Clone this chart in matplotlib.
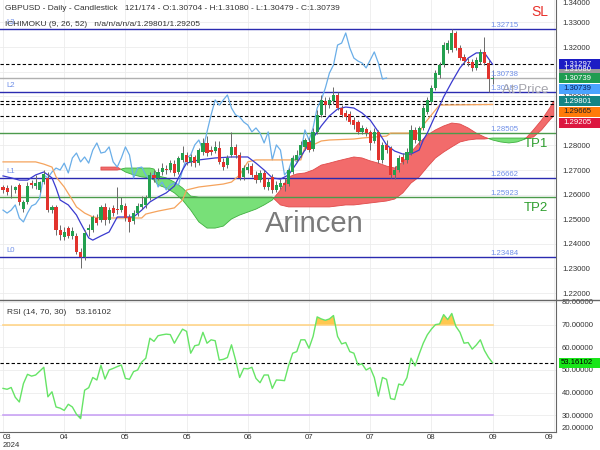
import numpy as np
import matplotlib.pyplot as plt
from matplotlib.lines import Line2D
from matplotlib.patches import Rectangle

plt.rcParams['font.family'] = ['Liberation Sans', 'DejaVu Sans']

# GBPUSD daily candles (bar 0 = mid March 2024)
opens = [1.2631, 1.2627, 1.2623, 1.2619, 1.2639, 1.2541, 1.2570, 1.2647, 1.2635, 1.2619,
         1.2651, 1.2668, 1.2537, 1.2550, 1.2456, 1.2428, 1.2464, 1.2432, 1.2432, 1.2367,
         1.2346, 1.2456, 1.2456, 1.2505, 1.2497, 1.2550, 1.2497, 1.2546, 1.2541, 1.2537,
         1.2554, 1.2509, 1.2493, 1.2525, 1.2550, 1.2558, 1.2586, 1.2680, 1.2668, 1.2692,
         1.2704, 1.2700, 1.2724, 1.2692, 1.2741, 1.2761, 1.2733, 1.2753, 1.2728, 1.2773,
         1.2810, 1.2781, 1.2777, 1.2790, 1.2733, 1.2720, 1.2761, 1.2794, 1.2761, 1.2672,
         1.2700, 1.2716, 1.2680, 1.2659, 1.2688, 1.2631, 1.2672, 1.2619, 1.2631, 1.2647,
         1.2643, 1.2692, 1.2741, 1.2761, 1.2794, 1.2814, 1.2785, 1.2855, 1.2924, 1.2981,
         1.2968, 1.2981, 1.3005, 1.2952, 1.2932, 1.2928, 1.2903, 1.2895, 1.2855, 1.2867,
         1.2855, 1.2818, 1.2855, 1.2741, 1.2802, 1.2790, 1.2680, 1.2700, 1.2753, 1.2741,
         1.2769, 1.2863, 1.2818, 1.2871, 1.2936, 1.2977, 1.3033, 1.3086, 1.3127, 1.3188,
         1.3188, 1.3257, 1.3196, 1.3159, 1.3139, 1.3139, 1.3115, 1.3139, 1.3180, 1.3135,
         1.30704]
highs = [1.2639, 1.2639, 1.2639, 1.2635, 1.2647, 1.2578, 1.2651, 1.2659, 1.2680, 1.2655,
         1.2700, 1.2692, 1.2558, 1.2558, 1.2476, 1.2468, 1.2472, 1.2468, 1.2444, 1.2383,
         1.2456, 1.2481, 1.2517, 1.2521, 1.2558, 1.2566, 1.2550, 1.2558, 1.2631, 1.2590,
         1.2566, 1.2521, 1.2537, 1.2566, 1.2594, 1.2598, 1.2692, 1.2700, 1.2708, 1.2728,
         1.2720, 1.2741, 1.2741, 1.2757, 1.2798, 1.2773, 1.2765, 1.2761, 1.2789, 1.2830,
         1.2838, 1.2798, 1.2818, 1.2818, 1.2749, 1.2761, 1.2855, 1.2806, 1.2773, 1.2720,
         1.2728, 1.2728, 1.2696, 1.2700, 1.2700, 1.2668, 1.2684, 1.2655, 1.2663, 1.2668,
         1.2708, 1.2761, 1.2781, 1.2818, 1.2830, 1.2830, 1.2871, 1.2944, 1.3005, 1.2997,
         1.2997, 1.3037, 1.3017, 1.2964, 1.2944, 1.2940, 1.2916, 1.2903, 1.2883, 1.2875,
         1.2863, 1.2871, 1.2863, 1.2814, 1.2822, 1.2798, 1.2716, 1.2761, 1.2769, 1.2790,
         1.2883, 1.2875, 1.2879, 1.2964, 1.2997, 1.3046, 1.3107, 1.3139, 1.3220, 1.3228,
         1.32715, 1.3265, 1.3208, 1.3172, 1.3155, 1.3151, 1.3159, 1.3192, 1.3241, 1.3147,
         1.31080]
lows = [1.2607, 1.2598, 1.2586, 1.2607, 1.2558, 1.2529, 1.2562, 1.2627, 1.2623, 1.2611,
        1.2643, 1.2529, 1.2525, 1.2436, 1.2415, 1.2415, 1.2424, 1.2420, 1.2359, 1.2302,
        1.2334, 1.2432, 1.2448, 1.2476, 1.2489, 1.2476, 1.2485, 1.2513, 1.2521, 1.2529,
        1.2493, 1.2448, 1.2481, 1.2513, 1.2541, 1.2546, 1.2578, 1.2651, 1.2659, 1.2680,
        1.2684, 1.2692, 1.2676, 1.2684, 1.2733, 1.2720, 1.2716, 1.2712, 1.2720, 1.2761,
        1.2757, 1.2761, 1.2769, 1.2724, 1.2700, 1.2708, 1.2753, 1.2749, 1.2659, 1.2659,
        1.2688, 1.2672, 1.2647, 1.2651, 1.2623, 1.2619, 1.2607, 1.2611, 1.2623, 1.2615,
        1.2635, 1.2684, 1.2733, 1.2753, 1.2781, 1.2773, 1.2777, 1.2846, 1.2916, 1.2924,
        1.2952, 1.2968, 1.2944, 1.2916, 1.2903, 1.2887, 1.2867, 1.2846, 1.2846, 1.2838,
        1.2781, 1.2810, 1.2728, 1.2728, 1.2769, 1.2668, 1.2663, 1.2692, 1.2724, 1.2728,
        1.2761, 1.2810, 1.2802, 1.2863, 1.2928, 1.2968, 1.3025, 1.3074, 1.3119, 1.3176,
        1.3180, 1.3188, 1.3147, 1.3131, 1.3123, 1.3103, 1.3107, 1.3131, 1.3127, 1.30189,
        1.30479]
closes = [1.2619, 1.2611, 1.2624, 1.2631, 1.2570, 1.2570, 1.2635, 1.2639, 1.2647, 1.2651,
          1.2684, 1.2537, 1.2550, 1.2456, 1.2436, 1.2448, 1.2432, 1.2452, 1.2367, 1.2346,
          1.2444, 1.2464, 1.2509, 1.2485, 1.2550, 1.2497, 1.2537, 1.2525, 1.2537, 1.2558,
          1.2505, 1.2489, 1.2525, 1.2554, 1.2562, 1.2586, 1.2680, 1.2668, 1.2692, 1.2708,
          1.2700, 1.2728, 1.2688, 1.2749, 1.2769, 1.2733, 1.2753, 1.2728, 1.2781, 1.2810,
          1.2769, 1.2773, 1.2794, 1.2733, 1.2712, 1.2749, 1.2794, 1.2761, 1.2668, 1.2708,
          1.2712, 1.2680, 1.2659, 1.2688, 1.2631, 1.2651, 1.2619, 1.2639, 1.2647, 1.2639,
          1.2700, 1.2749, 1.2761, 1.2802, 1.2822, 1.2781, 1.2855, 1.2924, 1.2985, 1.2964,
          1.2985, 1.3005, 1.2952, 1.2924, 1.2916, 1.2895, 1.2883, 1.2855, 1.2871, 1.2850,
          1.2810, 1.2855, 1.2741, 1.2802, 1.2781, 1.2680, 1.2700, 1.2749, 1.2733, 1.2773,
          1.2863, 1.2822, 1.2871, 1.2952, 1.2985, 1.3033, 1.3094, 1.3127, 1.3208, 1.3216,
          1.3257, 1.3196, 1.3155, 1.3143, 1.3135, 1.3115, 1.3147, 1.3180, 1.3135, 1.3070,
          1.30739]

# Ichimoku lines, read at selected bars
tenkan_bar = [0, 2, 4, 6, 8, 10, 12, 13, 14, 16, 18, 19, 21, 22, 24, 26, 28, 30, 32, 34,
              36, 38, 40, 42, 44, 45, 48, 52, 56, 60, 62, 64, 66, 68, 70, 72, 74, 76, 78, 80,
              82, 84, 86, 88, 90, 92, 94, 96, 98, 100, 102, 103, 104, 106, 108, 110, 112, 114,
              116, 118, 120]
tenkan_val = [1.2676, 1.2668, 1.2659, 1.2659, 1.2680, 1.2692, 1.2668, 1.2627, 1.2578, 1.2558,
              1.2517, 1.2485, 1.2424, 1.2415, 1.2432, 1.2448, 1.2509, 1.2509, 1.2509, 1.2537,
              1.2570, 1.2590, 1.2607, 1.2635, 1.2700, 1.2728, 1.2741, 1.2749, 1.2753, 1.2753,
              1.2728, 1.2700, 1.2668, 1.2663, 1.2680, 1.2728, 1.2781, 1.2830, 1.2879, 1.2920,
              1.2948, 1.2956, 1.2952, 1.2932, 1.2903, 1.2855, 1.2802, 1.2777, 1.2765, 1.2765,
              1.2781, 1.2822, 1.2850, 1.2924, 1.2997, 1.3058, 1.3115, 1.3155, 1.3176, 1.3176,
              1.31297]
kijun_bar = [0, 8, 10, 12, 13, 15, 17, 18, 20, 22, 24, 34, 35, 38, 42, 44, 45, 48, 54, 56,
             58, 60, 62, 73, 74, 76, 78, 80, 86, 88, 94, 95, 102, 103, 104, 106, 107, 120]
kijun_val = [1.2733, 1.2733, 1.2724, 1.2712, 1.2672, 1.2631, 1.2578, 1.2550, 1.2525, 1.2509,
             1.2505, 1.2505, 1.2521, 1.2533, 1.2546, 1.2578, 1.2619, 1.2631, 1.2643, 1.2651,
             1.2680, 1.2733, 1.2741, 1.2741, 1.2794, 1.2802, 1.2818, 1.2822, 1.2826, 1.2830,
             1.2838, 1.2850, 1.2850, 1.2883, 1.2903, 1.2944, 1.2964, 1.29665]
cloud_bar = [24, 28, 30, 32, 34, 36, 37, 38, 40, 42, 44, 46, 48, 50, 52, 54, 56, 58, 60, 62,
             64, 66, 68, 70, 72, 74, 76, 78, 80, 82, 84, 86, 88, 90, 92, 94, 96, 98, 100, 102,
             104, 106, 108, 110, 112, 114, 116, 118, 120, 122, 124, 126, 128, 130, 132, 134, 135]
span_a = [1.2712, 1.2712, 1.2692, 1.2680, 1.2672, 1.2668, 1.2659, 1.2639, 1.2627, 1.2607,
          1.2578, 1.2537, 1.2489, 1.2464, 1.2464, 1.2472, 1.2501, 1.2517, 1.2529, 1.2541,
          1.2558, 1.2578, 1.2619, 1.2672, 1.2684, 1.2688, 1.2700, 1.2720, 1.2728, 1.2737,
          1.2745, 1.2753, 1.2749, 1.2737, 1.2728, 1.2716, 1.2708, 1.2733, 1.2773, 1.2810,
          1.2842, 1.2863, 1.2879, 1.2891, 1.2887, 1.2871, 1.2850, 1.2834, 1.2822, 1.2814,
          1.2810, 1.2814, 1.2826, 1.2863, 1.2903, 1.2952, 1.29801]
span_b = [1.2700, 1.2700, 1.2708, 1.2708, 1.2708, 1.2708, 1.2704, 1.2676, 1.2668, 1.2651,
          1.2627, 1.2594, 1.2590, 1.2590, 1.2590, 1.2590, 1.2590, 1.2590, 1.2590, 1.2590,
          1.2590, 1.2590, 1.2558, 1.2550, 1.2550, 1.2550, 1.2550, 1.2550, 1.2550, 1.2554,
          1.2558, 1.2558, 1.2562, 1.2566, 1.2570, 1.2574, 1.2582, 1.2607, 1.2647, 1.2672,
          1.2712, 1.2749, 1.2773, 1.2794, 1.2814, 1.2822, 1.2826, 1.2826, 1.2830, 1.2830,
          1.2830, 1.2830, 1.2830, 1.2834, 1.2863, 1.2903, 1.29205]
chikou_shift = 26

rsi = [41.9, 41.5, 42.3, 38.0, 35.9, 44.0, 48.1, 47.3, 47.8, 49.5,
       51.2, 38.2, 40.4, 33.7, 33.2, 32.2, 34.9, 33.7, 30.5, 28.6,
       41.1, 42.2, 46.7, 45.6, 52.1, 46.0, 50.0, 50.7, 51.5, 52.2,
       46.3, 45.9, 49.3, 50.0, 53.5, 55.2, 64.0, 62.6, 65.1, 65.5,
       65.8, 65.6, 61.8, 65.0, 68.0, 67.0, 57.4, 60.7, 61.1, 66.6,
       61.8, 63.3, 62.9, 54.4, 54.7, 55.5, 61.1, 54.4, 46.7, 50.7,
       50.5, 51.2, 46.3, 44.4, 47.8, 47.8, 41.9, 45.6, 45.5, 45.3,
       52.0, 57.4, 58.1, 63.3, 63.3, 59.6, 64.8, 73.4, 72.5, 71.9,
       72.5, 74.0, 64.8, 61.5, 62.1, 58.1, 57.4, 52.2, 52.7, 50.0,
       51.0, 46.7, 38.5, 46.7, 45.9, 37.4, 37.0, 43.8, 43.3, 46.6,
       55.2, 51.8, 57.0, 61.8, 65.5, 68.0, 70.0, 70.3, 74.4, 72.2,
       74.9, 69.2, 66.6, 61.8, 62.1, 59.2, 61.0, 63.3, 58.6, 55.5,
       53.16102]
rsi_upper, rsi_lower, rsi_last = 70, 30, 53.16102

# levels drawn on the chart
blue_levels = [1.32715, 1.30189, 1.26662, 1.23484]
blue_names = ['L3', 'L2', 'L1', 'L0']
green_levels = [1.28505, 1.25923]
green_names = ['TP1', 'TP2']
dashed_levels = [1.31297, 1.29801, 1.29665, 1.29205]
last_close = 1.30739
at_price = 1.30738
sl_level = 1.32715

tag_values = [1.31297, 1.30739, 1.30739, 1.29801, 1.29665, 1.29205]
tag_colors = ['#1c1cc4', '#1e9c50', '#4ba3ff', '#138585', '#ff7b0a', '#dc1740']
tag_text = ['white', 'white', '#0a1f5c', 'white', '#222222', 'white']
high_tag = 1.31080

date_ticks = list(range(0, 136, 15))
date_labels = ['03\n2024', '04', '05', '05', '06', '07', '07', '08', '09', '09']
price_ticks = [1.22, 1.23, 1.24, 1.25, 1.26, 1.27, 1.28, 1.29, 1.30, 1.31, 1.32, 1.33]
rsi_ticks = [30, 40, 50, 60, 70, 80]

# ---- layout (pixels of a 600x450 image) ----
AXW, MH, RH = 556.0, 300.0, 132.0
fig = plt.figure(figsize=(6, 4.5), dpi=100)
ax = fig.add_axes([0, 150 / 450, AXW / 600, MH / 450])
ax2 = fig.add_axes([0, 18 / 450, AXW / 600, RH / 450])

GREEN, RED = '#23a04f', '#e2332d'
TXT = '#333333'
FS = 5.6

bars = np.arange(len(closes))
o, h, l, c = map(np.array, (opens, highs, lows, closes))
xlim = (-0.74, 135.54)
ylim = (1.21716, 1.33911)
ppx = (ylim[1] - ylim[0]) / MH  # price per pixel

for a_ in (ax, ax2):
    a_.set_xlim(*xlim)
    a_.set_xticks(date_ticks)
    a_.grid(True, color='#ececec', lw=0.6)
    a_.set_axisbelow(True)
    for s in ('top', 'left'):
        a_.spines[s].set_visible(False)
    a_.spines['right'].set_color('#666666')
    a_.yaxis.tick_right()
    a_.tick_params(length=0, labelsize=FS, labelcolor=TXT)
    a_.tick_params(axis='y', pad=4.3)

ax.spines['bottom'].set_visible(False)
ax.tick_params(axis='x', labelbottom=False)
ax.set_ylim(*ylim)
ax.set_yticks(price_ticks)
ax.set_yticklabels([f'{v:.5f}' for v in price_ticks])
ax.text(1 + 6 / AXW, 1.0, '1.34000', transform=ax.transAxes, ha='left', va='top',
        fontsize=FS, color=TXT, clip_on=False)

# cloud
cb, sa, sb = np.array(cloud_bar), np.array(span_a), np.array(span_b)
ax.fill_between(cb, sa, sb, where=sa >= sb, interpolate=True, fc='#f26b6b',
                ec='#e04a4a', lw=0.6, zorder=2)
ax.fill_between(cb, sa, sb, where=sa < sb, interpolate=True, fc='#78e078',
                ec='#3fb03f', lw=0.6, zorder=2)

# level lines
for v in blue_levels:
    ax.axhline(v, color='#2b2bb0', lw=1, zorder=3)
for v in green_levels:
    ax.axhline(v, color='#4c9a4c', lw=1, zorder=3)
for v in dashed_levels:
    ax.axhline(v, color='black', lw=0.8, ls=(0, (3, 2)), zorder=3)
ax.axhline(last_close, color='#b0b0b0', lw=1, zorder=3)

# ichimoku lines
ax.plot(bars[:-chikou_shift], c[chikou_shift:], color='#6aaee8', lw=0.9, zorder=3.5)
ax.plot(kijun_bar, kijun_val, color='#f5a35c', lw=0.9, zorder=3.5)
ax.plot(tenkan_bar, tenkan_val, color='#3a3acf', lw=0.9, zorder=3.6)

# candles
col = np.where(c >= o, GREEN, RED)
ax.vlines(bars, l, h, colors='#6a6a6a', lw=0.7, zorder=4)
ax.bar(bars, np.maximum(np.abs(c - o), 0.00012), bottom=np.minimum(o, c), width=0.78,
       color=col, lw=0, zorder=5)

# labels on levels
lvl_col = '#6f8fe8'
ylab = ax.get_yaxis_transform()
for v in blue_levels + green_levels:
    ax.text(490 / AXW, v, f'{v:.5f}', transform=ylab, ha='left', va='bottom',
            fontsize=FS, color=lvl_col, zorder=6)
ax.text(490 / AXW, at_price, f'{at_price:.5f}', transform=ylab, ha='left', va='bottom',
        fontsize=FS, color=lvl_col, zorder=6)
for v, nm in zip(blue_levels, blue_names):
    ax.text(6 / AXW, v + 3 * ppx, nm, transform=ylab, ha='left', va='bottom',
            fontsize=FS, color=lvl_col, zorder=6)

ax.text(540 / AXW, sl_level + 17 * ppx, 'SL', transform=ylab, ha='center', va='center',
        fontsize=10, color='#e8302a', zorder=6)
for v, nm in zip(green_levels, green_names):
    ax.text(536 / AXW, v - 11.5 * ppx, nm, transform=ylab, ha='center', va='center',
            fontsize=9.5, color='#2e9e2e', zorder=6)
ax.text(525 / AXW, 1 - 90 / MH, 'At Price', transform=ax.transAxes, ha='center',
        va='center', fontsize=9.5, color='#a4a4ac', zorder=6)
ax.text(314 / AXW, 1 - 224 / MH, 'Arincen', transform=ax.transAxes, ha='center',
        va='center', fontsize=21, color='#7a7a7a', zorder=6)

ax.text(5 / AXW, 1 - 8 / MH,
        'GBPUSD - Daily - Candlestick   121/174 - O:1.30704 - H:1.31080 - L:1.30479 - C:1.30739',
        transform=ax.transAxes, ha='left', va='center', fontsize=6, color=TXT, zorder=7)
ax.text(5 / AXW, 1 - 25 / MH, 'ICHIMOKU (9, 26, 52)   n/a/n/a/n/a/1.29801/1.29205',
        transform=ax.transAxes, ha='left', va='center', fontsize=6, color=TXT, zorder=7)


def tag(axis, y, txt, fc, tc, hpx, ppx_):
    axis.add_patch(Rectangle((1 + 3 / AXW, y - hpx * ppx_ / 2), 44 / AXW, hpx * ppx_,
                             transform=axis.get_yaxis_transform(), fc=fc, ec='none',
                             clip_on=False, zorder=10))
    axis.text(1 + 21 / AXW, y, txt, transform=axis.get_yaxis_transform(), ha='center',
              va='center', fontsize=FS, color=tc, clip_on=False, zorder=11)


tag(ax, high_tag, f'{high_tag:.5f}', '#9a9a9a', 'white', 10, ppx)
prev = None
for v, fc, tc in zip(tag_values, tag_colors, tag_text):
    y = v if prev is None else min(v, prev - 10.7 * ppx)
    tag(ax, y, f'{v:.5f}', fc, tc, 10, ppx)
    prev = y

# ---- RSI panel ----
r = np.array(rsi)
rlim = (50 - 62 / 2.27, 50 + 70 / 2.27)
rppx = (rlim[1] - rlim[0]) / RH
ax2.set_ylim(*rlim)
ax2.set_yticks(rsi_ticks)
ax2.set_yticklabels([f'{v:.5f}' for v in rsi_ticks])
ax2.spines['bottom'].set_color('#666666')
ax2.text(1 + 6 / AXW, 0.0, '20.00000', transform=ax2.transAxes, ha='left', va='bottom',
         fontsize=FS, color=TXT, clip_on=False)
ax2.set_xticklabels(date_labels)
ax2.tick_params(axis='x', pad=1.5)
xl = ax2.get_xticklabels()
xl[0].set_ha('left')
xl[-1].set_ha('right')

ax2.plot([bars[0], bars[-1]], [rsi_upper] * 2, color='#ffd58a', lw=1.2, zorder=2)
ax2.plot([bars[0], bars[-1]], [rsi_lower] * 2, color='#c9a3f5', lw=1.2, zorder=2)
ax2.fill_between(bars, r, rsi_upper, where=r > rsi_upper, interpolate=True,
                 color='#ffc750', lw=0, zorder=3)
ax2.fill_between(bars, r, rsi_lower, where=r < rsi_lower, interpolate=True,
                 color='#7f8fb0', lw=0, zorder=3)
ax2.axhline(rsi_last, color='black', lw=0.8, ls=(0, (3, 2)), zorder=3)
ax2.plot(bars, r, color='#66e466', lw=1, zorder=4)
ax2.text(7 / AXW, 1 - 12 / RH, f'RSI (14, 70, 30)    {rsi_last:.5f}', transform=ax2.transAxes,
         ha='left', va='center', fontsize=6, color=TXT)
tag(ax2, rsi_last, f'{rsi_last:.5f}', '#19e619', 'black', 10, rppx)

fig.add_artist(Line2D([0, 1], [150 / 450, 150 / 450], color='#666666', lw=1))

fig.savefig('out.png', dpi=100)
